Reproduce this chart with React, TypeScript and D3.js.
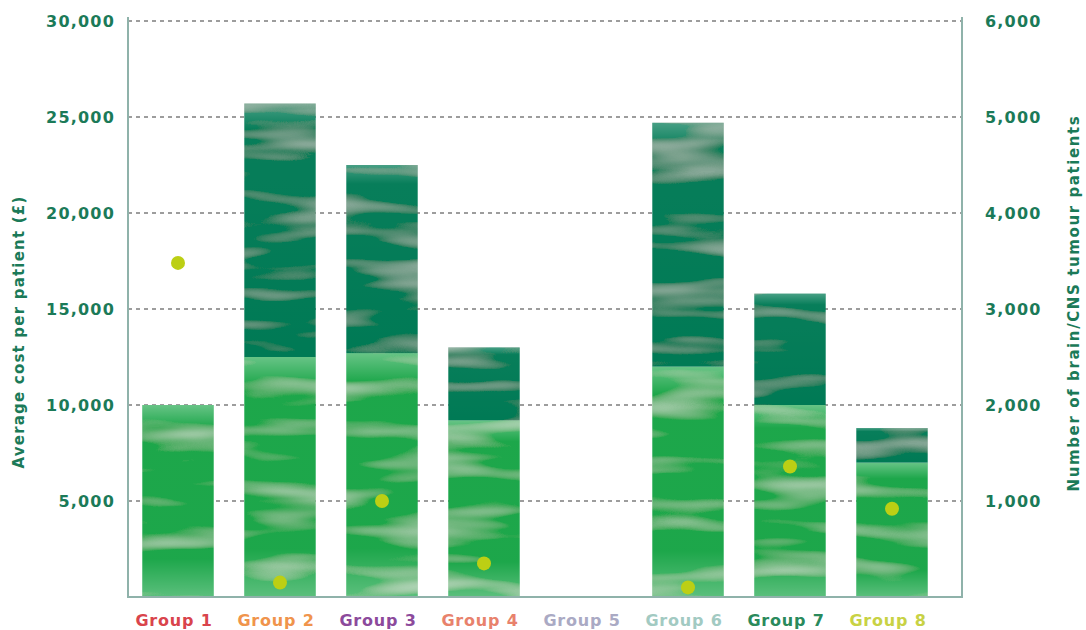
import React from "react";
import * as d3 from "d3";

const groups = ["Group 1", "Group 2", "Group 3", "Group 4", "Group 5", "Group 6", "Group 7", "Group 8"];
const groupColors = ["#d9444c", "#f0944c", "#8c4a9c", "#e8826c", "#aaaac4", "#a2cac2", "#2a8a5c", "#c8d244"];
// average cost per patient (£): lower (light) part and total bar height
const costLower = [10000, 12500, 12700, 9200, 0, 12000, 10000, 7000];
const costTotal = [10000, 25700, 22500, 13000, 0, 24700, 15800, 8800];
// number of brain/CNS tumour patients (right axis)
const patients: (number | null)[] = [3480, 150, 1000, 350, null, 100, 1360, 920];
const costTicks = [5000, 10000, 15000, 20000, 25000, 30000];
const patientTicks = [1000, 2000, 3000, 4000, 5000, 6000];

const W = 1086, H = 630;
const left = 128, right = 962, top = 21, bottom = 597;
const tickColor = "#1b7a58";
const font = "'DejaVu Sans', Verdana, sans-serif";

export default function App() {
  const x = d3.scaleBand<string>().domain(groups).range([127, 943]).paddingInner(0.3).paddingOuter(0.15);
  const yL = d3.scaleLinear().domain([0, 30000]).range([bottom, top]);
  const yR = d3.scaleLinear().domain([0, 6000]).range([bottom, top]);
  const fmt = d3.format(",");
  const bw = x.bandwidth();

  return (
    <svg width={W} height={H} style={{ position: "absolute", left: 0, top: 0, background: "#fff" }}>
      <defs>
        <filter id="wc" x="0" y="0" width="1" height="1">
          <feTurbulence type="fractalNoise" baseFrequency="0.008 0.05" numOctaves="2" seed="7" result="noise" />
          <feColorMatrix in="noise" type="matrix" values="0 0 0 0 1  0 0 0 0 1  0 0 0 0 1  0.9 0 0 0 -0.47" result="white" />
          <feComposite in="white" in2="SourceGraphic" operator="in" result="whiteIn" />
          <feMerge>
            <feMergeNode in="SourceGraphic" />
            <feMergeNode in="whiteIn" />
          </feMerge>
        </filter>
        <linearGradient id="edge" x1="0" y1="0" x2="0" y2="1">
          <stop offset="0" stopColor="#fff" stopOpacity="0.35" />
          <stop offset="0.12" stopColor="#fff" stopOpacity="0.03" />
          <stop offset="0.8" stopColor="#fff" stopOpacity="0.03" />
          <stop offset="1" stopColor="#fff" stopOpacity="0.3" />
        </linearGradient>
        <linearGradient id="edgeDark" x1="0" y1="0" x2="0" y2="1">
          <stop offset="0" stopColor="#fff" stopOpacity="0.28" />
          <stop offset="0.1" stopColor="#fff" stopOpacity="0.03" />
          <stop offset="1" stopColor="#fff" stopOpacity="0" />
        </linearGradient>
      </defs>

      {/* gridlines */}
      {costTicks.map((t) => (
        <line key={t} x1={left} x2={right} y1={yL(t)} y2={yL(t)} stroke="#7e7e7e" strokeWidth={1.4} strokeDasharray="4,4" />
      ))}

      {/* bars */}
      {groups.map((g, i) => {
        const x0 = x(g)!;
        const els = [];
        if (costLower[i] > 0) {
          const y0 = yL(costLower[i]);
          const h = yL(0) - y0;
          els.push(<rect key="l" x={x0} y={y0} width={bw} height={h} fill="#12a444" filter="url(#wc)" />);
          els.push(<rect key="lg" x={x0} y={y0} width={bw} height={h} fill="url(#edge)" />);
        }
        if (costTotal[i] > costLower[i]) {
          const y0 = yL(costTotal[i]);
          const h = yL(costLower[i]) - y0;
          els.push(<rect key="d" x={x0} y={y0} width={bw} height={h} fill="#057a55" filter="url(#wc)" />);
          els.push(<rect key="dg" x={x0} y={y0} width={bw} height={h} fill="url(#edgeDark)" />);
        }
        return <g key={g}>{els}</g>;
      })}

      {/* patient dots */}
      {groups.map((g, i) =>
        patients[i] == null ? null : (
          <circle key={g} cx={x(g)! + bw / 2} cy={yR(patients[i] as number)} r={7} fill="#bccf14" />
        )
      )}

      {/* frame */}
      <path d={`M${left},${top - 4}V${bottom}H${right}V${top - 4}`} fill="none" stroke="#8fb2aa" strokeWidth={2} />

      {/* left ticks */}
      {costTicks.map((t) => (
        <text key={t} x={115} y={yL(t)} dy="0.36em" textAnchor="end" fill={tickColor} fontFamily={font} fontWeight="bold" fontSize={16} letterSpacing={1.2}>
          {fmt(t)}
        </text>
      ))}
      {/* right ticks */}
      {patientTicks.map((t) => (
        <text key={t} x={985} y={yR(t)} dy="0.36em" textAnchor="start" fill={tickColor} fontFamily={font} fontWeight="bold" fontSize={16} letterSpacing={1.2}>
          {fmt(t)}
        </text>
      ))}

      {/* axis titles */}
      <text transform={`translate(24,332) rotate(-90)`} textAnchor="middle" fill={tickColor} fontFamily={font} fontWeight="bold" fontSize={15} letterSpacing={1.2}>
        Average cost per patient (£)
      </text>
      <text transform={`translate(1079,303) rotate(-90)`} textAnchor="middle" fill={tickColor} fontFamily={font} fontWeight="bold" fontSize={15} letterSpacing={1.6}>
        Number of brain/CNS tumour patients
      </text>

      {/* group labels */}
      {groups.map((g, i) => (
        <text key={g} x={x(g)! + bw / 2 - 4} y={620} dy="0.35em" textAnchor="middle" fill={groupColors[i]} fontFamily={font} fontWeight="bold" fontSize={16} letterSpacing={0.8}>
          {g}
        </text>
      ))}
    </svg>
  );
}
